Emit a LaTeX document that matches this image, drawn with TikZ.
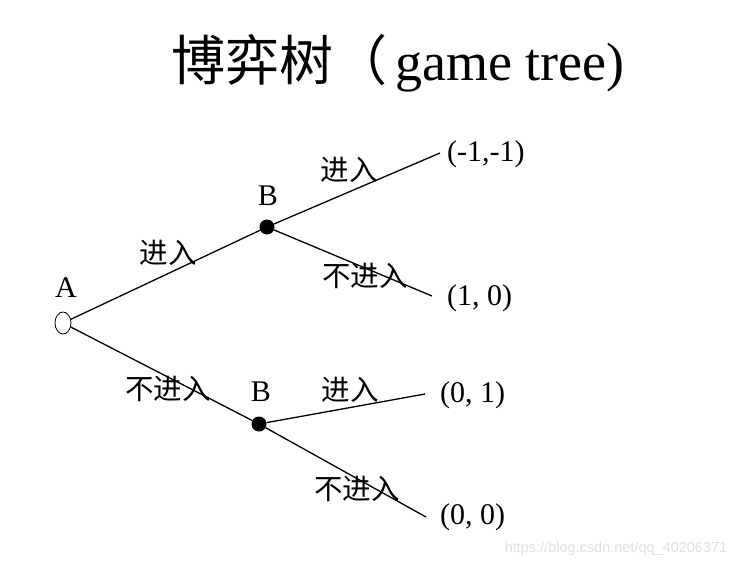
\documentclass[tikz,border=0pt]{standalone}
\usepackage{fontspec}
\setmainfont{Liberation Serif}
\newfontfamily\cjk{Noto Sans CJK SC}
\newfontfamily\wmfont{Liberation Sans}
\usetikzlibrary{shapes.geometric}
\begin{document}
\begin{tikzpicture}[x=1pt,y=-1pt,
  lbl/.style={font=\cjk\fontsize{28.5}{28.5}\selectfont, inner sep=0pt},
  lat/.style={font=\fontsize{30}{30}\selectfont, inner sep=0pt},
  edge/.style={line width=1.3pt},
  dec/.style={circle, fill=black, inner sep=0pt, minimum size=15pt},
  start/.style={ellipse, draw, line width=0.8pt, inner sep=0pt, minimum width=16pt, minimum height=22pt}]
\useasboundingbox[fill=white] (0,0) rectangle (746,567);

% title
\node[anchor=base, inner sep=0pt, font=\fontsize{54}{54}\selectfont] (title) at (398,81) {{\cjk 博弈树（}\hspace{0.15em}game tree)};

% nodes
\node[start] (A) at (63,323) {};
\node[lat] (lA) at (66,288) {A};
\node[dec] (B1) at (267,227) {};
\node[lat] (lB1) at (268,196) {B};
\node[dec] (B2) at (259,424) {};
\node[lat] (lB2) at (261,392) {B};

% leaf ends
\coordinate (L1) at (440,153);
\coordinate (L2) at (432,296);
\coordinate (L3) at (425,394);
\coordinate (L4) at (426,517);

% edges
\draw[edge] (A) -- (B1);
\draw[edge] (A) -- (B2);
\draw[edge] (B1) -- (L1);
\draw[edge] (B1) -- (L2);
\draw[edge] (B2) -- (L3);
\draw[edge] (B2) -- (L4);

% payoffs
\node[lat, anchor=west] (p1) at (447,154) {(-1,-1)};
\node[lat, anchor=west] (p2) at (447,298) {(1, 0)};
\node[lat, anchor=west] (p3) at (440,395) {(0, 1)};
\node[lat, anchor=west] (p4) at (440,517) {(0, 0)};

% action labels
\node[lbl] (e1) at (168,253) {进入};
\node[lbl] (e2) at (168,389) {不进入};
\node[lbl] (e3) at (349,170) {进入};
\node[lbl] (e4) at (365,276) {不进入};
\node[lbl] (e5) at (350,390) {进入};
\node[lbl] (e6) at (357,489) {不进入};

% watermark
\node[font=\wmfont\fontsize{14.5}{14.5}\selectfont, text=black!12, inner sep=0pt] (wm) at (616,549) {https://blog.csdn.net/qq\_40206371};
\end{tikzpicture}
\end{document}
